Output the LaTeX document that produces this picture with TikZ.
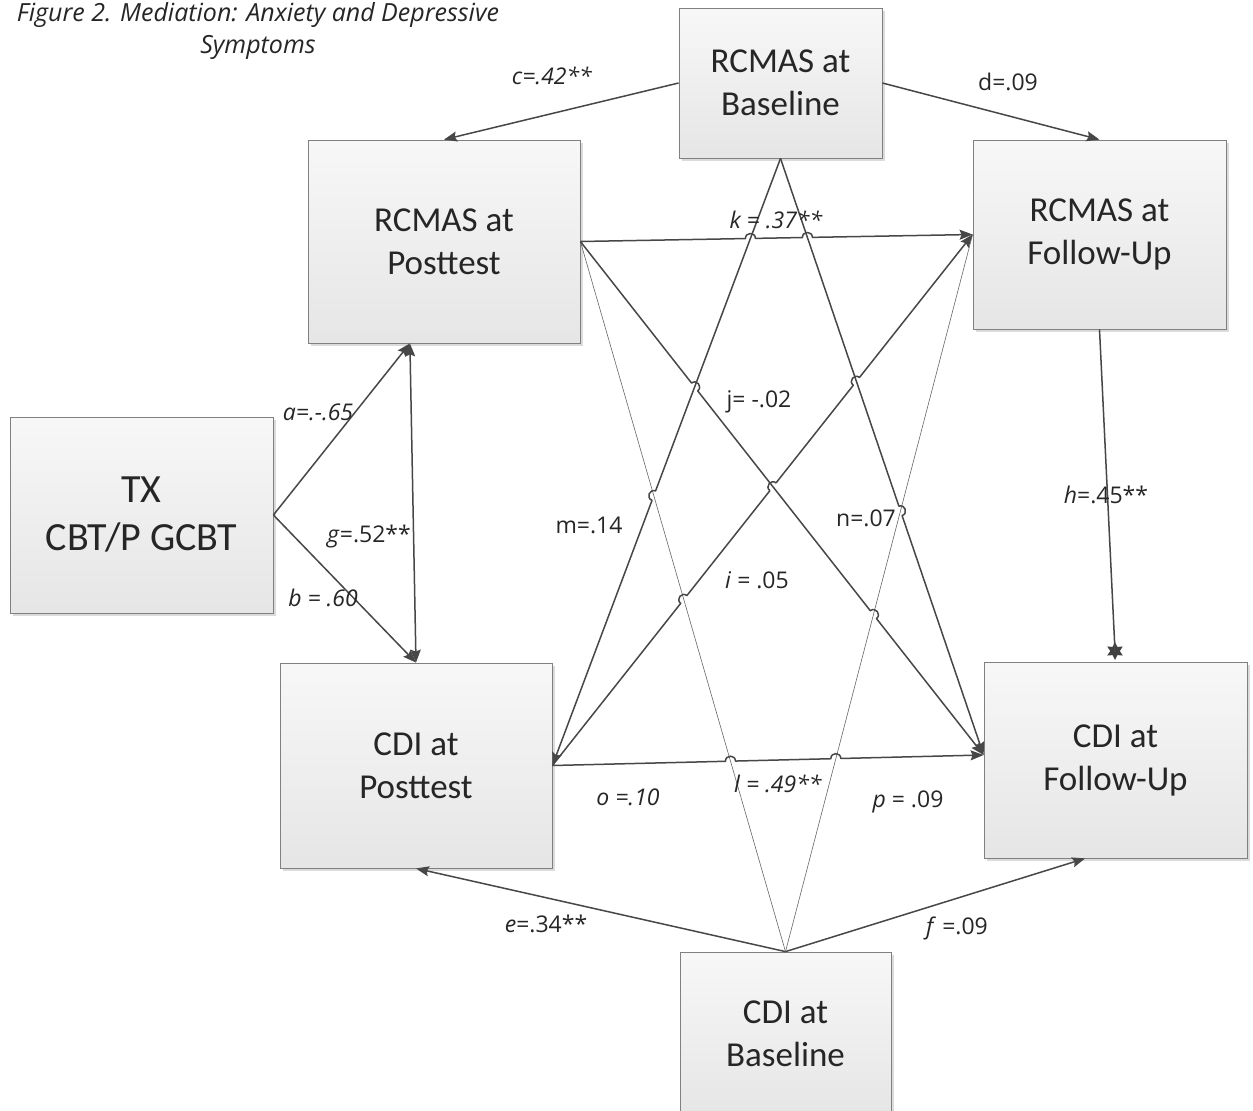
\documentclass[tikz,border=0pt]{standalone}
\usepackage{fontspec}
\setmainfont{Carlito}
\newfontfamily\lblfont{Open Sans}
\usetikzlibrary{calc,intersections,arrows.meta,shadows,shapes.geometric}
\newcommand\mkhump[5]{%
  \coordinate (#1a) at ($(#1)!5pt!(#2)$);
  \coordinate (#1b) at ($(#1)!5pt!(#3)$);
  \coordinate (#1c) at ($(#1a)!1.33!#4:(#1)$);
  \coordinate (#1d) at ($(#1b)!1.33!#5:(#1)$);}
\newcommand\hp[1]{-- (#1a) .. controls (#1c) and (#1d) .. (#1b)}
\begin{document}
\begin{tikzpicture}[x=1pt,y=-1pt,
  box/.style={draw=black!50, line width=0.8pt, top color=black!3, bottom color=black!10,
    drop shadow={shadow xshift=3pt,shadow yshift=-3pt,opacity=0.35,fill=black!40},
    align=center, inner sep=0pt, font=\fontsize{35}{43}\selectfont, text=black!85},
  conn/.style={draw=black!72, line width=1.5pt, line join=round},
  arr/.style={conn, -{Stealth[length=13pt,width=10pt,inset=2pt]}},
  dbl/.style={conn, {Stealth[length=13pt,width=10pt,inset=2pt]}-{Stealth[length=13pt,width=10pt,inset=2pt]}},
  thinline/.style={draw=black!60, line width=0.6pt},
  lbl/.style={font=\lblfont\fontsize{23}{28}\selectfont, text=black!85, inner sep=0pt},
]
\fill[white] (0,0) rectangle (1253,1111);
\useasboundingbox (0,0) rectangle (1253,1111);

\node[font=\lblfont\itshape\fontsize{25}{32}\selectfont, text=black!85, align=center] (title) at (258,31) {Figure 2. Mediation: Anxiety and Depressive\\Symptoms};

\node[box, minimum width=203pt, minimum height=150pt] (rb) at (780.5,83) {RCMAS at\\Baseline};
\node[box, minimum width=272pt, minimum height=203pt] (rp) at (444,241.5) {RCMAS at\\Posttest};
\node[box, minimum width=253pt, minimum height=189pt] (rf) at (1099.5,234.5) {RCMAS at\\Follow-Up};
\node[box, minimum width=263pt, minimum height=196pt, font=\fontsize{40}{48}\selectfont] (tx) at (141.5,515) {TX\\CBT/P GCBT};
\node[box, minimum width=272pt, minimum height=205pt] (cp) at (416,765.5) {CDI at\\Posttest};
\node[box, minimum width=263pt, minimum height=196pt] (cf) at (1115.5,760) {CDI at\\Follow-Up};
\node[box, minimum width=211pt, minimum height=164pt] (cb) at (785.5,1034) {CDI at\\Baseline};

\coordinate (cfw) at ($(cf.west)+(0,-5)$);
\coordinate (cfs) at ($(cf.south west)!0.385!(cf.south east)$);
\coordinate (rps) at ($(rp.south west)!0.375!(rp.south east)$);

\path[name path=Pk] (rp.east) -- (rf.west);
\path[name path=Pl] (cp.east) -- (cfw);
\path[name path=Pj] (rp.east) -- (cfw);
\path[name path=Pi] (cp.east) -- (rf.west);
\path[name path=Pm] (rb.south) -- (cp.east);
\path[name path=Pn] (rb.south) -- (cfw);
\path[name path=Pt] (rp.east) -- (cb.north);
\path[name path=Pu] (rf.west) -- (cb.north);

\path[name intersections={of=Pk and Pm, by=xkm}];
\path[name intersections={of=Pk and Pn, by=xkn}];
\path[name intersections={of=Pl and Pt, by=xlt}];
\path[name intersections={of=Pl and Pu, by=xlu}];
\path[name intersections={of=Pj and Pm, by=xjm}];
\path[name intersections={of=Pj and Pu, by=xju}];
\path[name intersections={of=Pi and Pt, by=xit}];
\path[name intersections={of=Pi and Pj, by=xij}];
\path[name intersections={of=Pi and Pn, by=xin}];
\path[name intersections={of=Pm and Pt, by=xmt}];
\path[name intersections={of=Pn and Pu, by=xnu}];

\mkhump{xkm}{rp.east}{rf.west}{90}{-90}
\mkhump{xkn}{rp.east}{rf.west}{90}{-90}
\mkhump{xlt}{cp.east}{cfw}{90}{-90}
\mkhump{xlu}{cp.east}{cfw}{90}{-90}
\mkhump{xjm}{rp.east}{cfw}{90}{-90}
\mkhump{xju}{rp.east}{cfw}{90}{-90}
\mkhump{xit}{cp.east}{rf.west}{90}{-90}
\mkhump{xij}{cp.east}{rf.west}{90}{-90}
\mkhump{xin}{cp.east}{rf.west}{90}{-90}
\mkhump{xmt}{rb.south}{cp.east}{-90}{90}
\mkhump{xnu}{rb.south}{cfw}{90}{-90}

% thin lines
\draw[thinline] (rp.east) -- (cb.north);
\draw[thinline] (rf.west) -- (cb.north);
% crossing connectors
\draw[arr] (rb.south) \hp{xmt} -- (cp.east);
\draw[arr] (rb.south) \hp{xnu} -- (cfw);
\draw[arr] (rp.east) \hp{xjm} \hp{xju} -- (cfw);
\draw[arr] (cp.east) \hp{xit} \hp{xij} \hp{xin} -- (rf.west);
\draw[arr] (rp.east) \hp{xkm} \hp{xkn} -- (rf.west);
\draw[arr] (cp.east) \hp{xlt} \hp{xlu} -- (cfw);
% outer connectors
\draw[arr] (rb.west) -- (rp.north);
\draw[arr] (rb.east) -- (rf.north);
\draw[arr] (cb.north) -- (cp.south);
\draw[arr] (cb.north) -- (cfs);
\draw[arr] (tx.east) -- (rps);
\draw[arr] (tx.east) -- (cp.north);
\draw[dbl] (rps) -- (cp.north);
\node[star, star points=6, star point ratio=1.9, fill=black!75, inner sep=0pt, minimum size=18pt] (htip) at (1115,651) {};
\draw[conn] (rf.south) -- (htip.center);

% labels
\node[lbl] (lc) at (552,76) {\textit{c=.42**}};
\node[lbl] (ld) at (1008,82) {d=.09};
\node[lbl] (lk) at (776,220) {\textit{k = .37**}};
\node[lbl] (la) at (318,412) {\textit{a=.-.65}};
\node[lbl] (lg) at (369,537) {\textit{g}=.52**};
\node[lbl] (lb) at (323,598) {\textit{b = .60}};
\node[lbl] (lm) at (589,525) {m=.14};
\node[lbl] (lj) at (759,402) {j= -.02};
\node[lbl] (ln) at (866,518) {n=.07};
\node[lbl] (li) at (757,580) {\textit{i} = .05};
\node[lbl] (lh) at (1106,495) {\textit{h}=.45**};
\node[lbl] (lo) at (628,797) {\textit{o =.10}};
\node[lbl] (ll) at (778,784) {\textit{l = .49**}};
\node[lbl] (lp) at (908,802) {\textit{p} = .09};
\node[lbl] (le) at (546,924) {\textit{e}=.34**};
\node[lbl] (lf) at (957,928) {\textit{f} =.09};
\end{tikzpicture}
\end{document}
